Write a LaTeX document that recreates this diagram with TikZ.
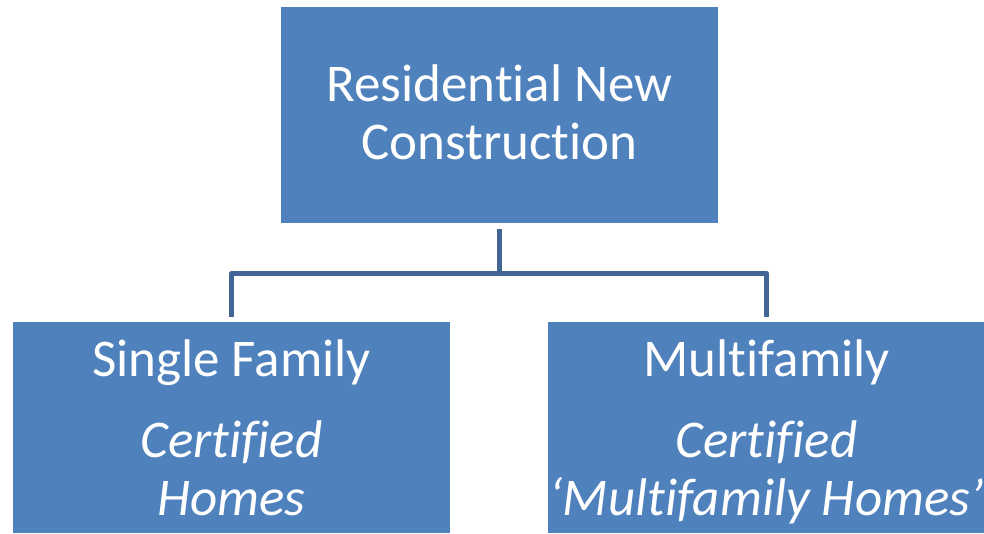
\documentclass[tikz,border=0pt]{standalone}
\usepackage{fontspec}
\setmainfont{Carlito}[Ligatures=NoCommon]
\usepackage{xcolor}
\usepackage{tikz}
\usetikzlibrary{positioning,calc}
\definecolor{boxblue}{RGB}{79,129,189}
\definecolor{linkblue}{RGB}{65,102,150}

\begin{document}
\begin{tikzpicture}[x=1pt,y=1pt,
    unit/.style={rectangle, fill=boxblue, text=white, align=center, minimum width=437pt, inner sep=0pt, font=\fontsize{53}{58}\selectfont},
    link/.style={draw=linkblue, line width=5pt, line join=round}]
    \useasboundingbox (0,0) rectangle (984,-534);
    % Boxes
    \node[unit, minimum height=216pt] (rnc) at (499.5,-115) {\rule{0pt}{45pt}Residential New\\Construction\rule[-13pt]{0pt}{13pt}};
    \node[unit, minimum height=211pt] (sf) at (231.5,-427.5) {\rule{0pt}{50pt}Single Family\\[23pt]\textit{Certified}\\\textit{Homes}\rule[-13pt]{0pt}{13pt}};
    \node[unit, minimum height=211pt] (mf) at (766.5,-427.5) {\rule{0pt}{50pt}Multifamily\\[23pt]\textit{Certified}\\\textit{`Multifamily Homes'}\rule[-13pt]{0pt}{13pt}};
    
    % Connectors
    \draw[link] ([yshift=-6pt]rnc.south) -- ++(0,-44) coordinate (hub);
    \draw[link] ([yshift=5pt]sf.north) |- (hub) -| ([yshift=5pt]mf.north);
\end{tikzpicture}
\end{document}
